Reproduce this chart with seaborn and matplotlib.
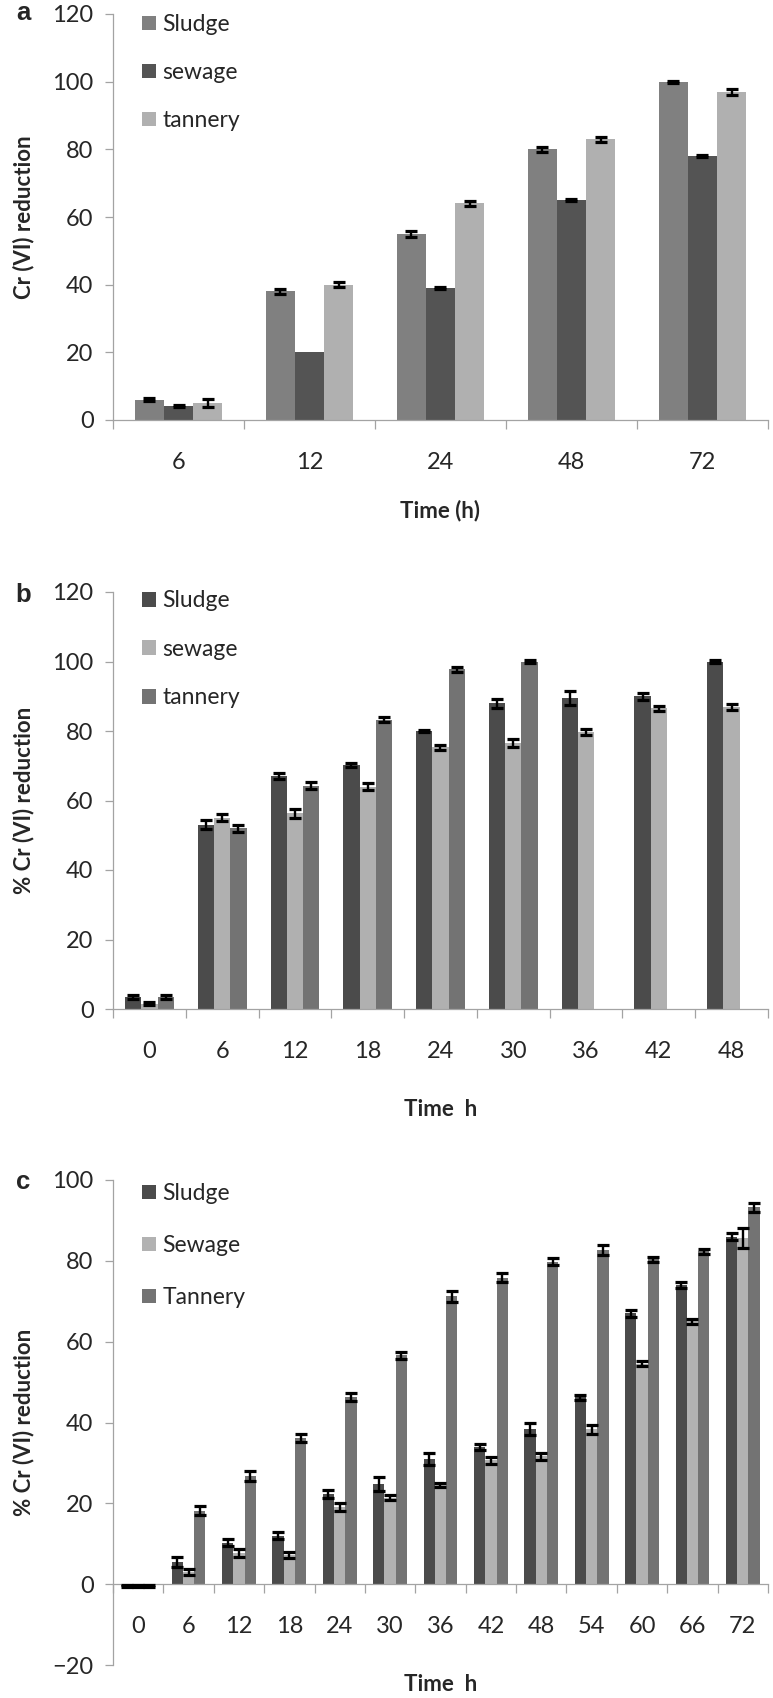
"""
Cr(VI) reduction by consortia from sludge, sewage and tannery sources (panels a-c).
"""

import matplotlib.pyplot as plt
import numpy as np
import pandas as pd
import seaborn as sns
from matplotlib.colors import to_hex
from matplotlib.patches import Patch

# ---- panel a ----
A_TIMES = ["6", "12", "24", "48", "72"]
A_SOURCES = ["Sludge", "sewage", "tannery"]
A_SLUDGE = [6, 38, 55, 80, 100]
A_SEWAGE = [4, 20, 39, 65, 78]
A_TANNERY = [5, 40, 64, 83, 97]
A_SLUDGE_ERR = [0.5, 0.7, 0.8, 0.8, 0.3]
A_SEWAGE_ERR = [0.3, 0.0, 0.2, 0.2, 0.3]
A_TANNERY_ERR = [1.1, 0.8, 0.8, 0.7, 0.8]
A_COLORS = ["#808080", "#545454", "#b0b0b0"]

# ---- panel b ----
B_TIMES = ["0", "6", "12", "18", "24", "30", "36", "42", "48"]
B_SOURCES = ["Sludge", "sewage", "tannery"]
B_SLUDGE = [3.5, 53, 67, 70.3, 80, 88, 89.6, 90, 100]
B_SEWAGE = [1.5, 55, 56.3, 64, 75.3, 76.5, 79.7, 86.5, 87]
B_TANNERY = [3.5, 52, 64.3, 83.3, 97.7, 100, np.nan, np.nan, np.nan]
B_SLUDGE_ERR = [0.5, 1.3, 0.8, 0.6, 0.4, 1.3, 2.0, 1.0, 0.4]
B_SEWAGE_ERR = [0.4, 1.0, 1.2, 1.0, 0.7, 1.2, 0.8, 0.8, 0.9]
B_TANNERY_ERR = [0.5, 1.0, 1.1, 0.7, 0.6, 0.4, 0, 0, 0]
B_COLORS = ["#4b4b4b", "#b0b0b0", "#737373"]

# ---- panel c ----
C_TIMES = ["0", "6", "12", "18", "24", "30", "36", "42", "48", "54", "60", "66", "72"]
C_SOURCES = ["Sludge", "Sewage", "Tannery"]
C_SLUDGE = [-0.5, 5.5, 10.3, 12, 22.4, 24.8, 31, 34, 38.5, 46.2, 67, 74, 86]
C_SEWAGE = [-0.5, 3, 7.8, 7.2, 19, 21.4, 24.6, 30.6, 31.6, 38.3, 54.5, 65, 85.6]
C_TANNERY = [-0.5, 18.2, 26.8, 36.2, 46.3, 56.6, 71.2, 75.8, 79.8, 82.6, 80.4, 82.4, 93.2]
C_SLUDGE_ERR = [0.3, 1.3, 0.8, 0.8, 1.0, 1.7, 1.5, 0.7, 1.5, 0.7, 0.8, 0.8, 0.8]
C_SEWAGE_ERR = [0.3, 0.8, 1.0, 0.8, 1.0, 0.6, 0.5, 0.8, 0.8, 1.2, 0.6, 0.7, 2.5]
C_TANNERY_ERR = [0.3, 1.2, 1.2, 1.0, 1.0, 0.9, 1.3, 1.1, 0.9, 1.2, 0.6, 0.6, 1.0]
C_COLORS = ["#4b4b4b", "#b2b2b2", "#737373"]

W, H = 773, 1698
AXIS_GREY = "#a3a3a3"


def draw_panel(ax, times, sources, values, errors, colors, ylim, ylabel, xlabel,
               xlabel_y, legend_spacing, legend_top, zero_spine=False):
    rows = []
    for src, vals, errs in zip(sources, values, errors):
        for t, v, e in zip(times, vals, errs):
            rows.append({"time": t, "source": src, "value": v, "err": e})
    df = pd.DataFrame(rows)

    sns.barplot(
        data=df.dropna(subset=["value"]), x="time", y="value", hue="source",
        order=times, hue_order=sources, palette=dict(zip(sources, colors)),
        width=0.67, saturation=1, errorbar=None, linewidth=0, legend=False, ax=ax,
    )

    # error bars on top of each bar, looked up by colour + category slot
    color_to_src = {to_hex(c): s for s, c in zip(sources, colors)}
    for bar in ax.patches:
        src = color_to_src.get(to_hex(bar.get_facecolor()))
        if src is None:
            continue
        xc = bar.get_x() + bar.get_width() / 2
        t = times[int(round(xc))]
        row = df[(df.source == src) & (df.time == t)].iloc[0]
        if row.err > 0:
            ax.errorbar(xc, row.value, yerr=row.err, fmt="none", ecolor="black",
                        elinewidth=1.7, capsize=4.3, capthick=2.3, zorder=3)

    ax.set_xlim(-0.5, len(times) - 0.5)
    ax.set_ylim(*ylim)
    ax.set_yticks(np.arange(ylim[0], ylim[1] + 1, 20))
    ax.set_xticks(np.arange(len(times) + 1) - 0.5, minor=True)

    sns.despine(ax=ax)
    for side in ["left", "bottom"]:
        ax.spines[side].set_color(AXIS_GREY)
        ax.spines[side].set_linewidth(0.9)
    if zero_spine:
        ax.spines["bottom"].set_position(("data", 0))

    ax.tick_params(axis="y", which="major", length=6, width=0.9, color=AXIS_GREY,
                   labelsize=17, pad=8, left=True)
    ax.tick_params(axis="x", which="major", length=0, labelsize=17, pad=23)
    ax.tick_params(axis="x", which="minor", length=6.5, width=0.9, color=AXIS_GREY,
                   bottom=True)

    ax.set_xlabel(xlabel, fontsize=16, fontweight="bold", va="center")
    ax.set_ylabel(ylabel, fontsize=16, fontweight="bold", va="center")
    ax.yaxis.set_label_coords(-0.136, 0.5)
    ax.xaxis.set_label_coords(0.5, xlabel_y)

    handles = [Patch(facecolor=c, edgecolor="none") for c in colors]
    ax.legend(handles, sources, loc="upper left", bbox_to_anchor=(0.044, legend_top),
              frameon=False, fontsize=16.5, handlelength=0.6, handleheight=0.6,
              handletextpad=0.3, labelspacing=legend_spacing, borderpad=0,
              borderaxespad=0)


sns.set_theme(style="white")
plt.rcParams["font.family"] = ["Lato", "DejaVu Sans"]

fig = plt.figure(figsize=(W / 100, H / 100), dpi=100)


def add_axes(top_px, bottom_px):
    return fig.add_axes([113 / W, 1 - bottom_px / H, 655 / W, (bottom_px - top_px) / H])


ax_a = add_axes(14, 420)
draw_panel(ax_a, A_TIMES, A_SOURCES, [A_SLUDGE, A_SEWAGE, A_TANNERY],
           [A_SLUDGE_ERR, A_SEWAGE_ERR, A_TANNERY_ERR], A_COLORS, (0, 120),
           "Cr (VI) reduction", "Time (h)", -0.222, 1.18, 1.0)

ax_b = add_axes(592, 1009)
draw_panel(ax_b, B_TIMES, B_SOURCES, [B_SLUDGE, B_SEWAGE, B_TANNERY],
           [B_SLUDGE_ERR, B_SEWAGE_ERR, B_TANNERY_ERR], B_COLORS, (0, 120),
           "% Cr (VI) reduction", "Time  h", -0.242, 1.2, 1.004)

ax_c = add_axes(1180, 1665)
draw_panel(ax_c, C_TIMES, C_SOURCES, [C_SLUDGE, C_SEWAGE, C_TANNERY],
           [C_SLUDGE_ERR, C_SEWAGE_ERR, C_TANNERY_ERR], C_COLORS, (-20, 100),
           "% Cr (VI) reduction", "Time  h", -0.041, 1.36, 0.994, zero_spine=True)

for letter, base_px in [("a", 20), ("b", 602), ("c", 1189)]:
    fig.text(23 / W, 1 - base_px / H, letter, ha="center", va="baseline",
             fontsize=18.5, fontweight="bold", family=["Liberation Sans", "DejaVu Sans"])

fig.savefig("out.png", dpi=100)
plt.close(fig)
